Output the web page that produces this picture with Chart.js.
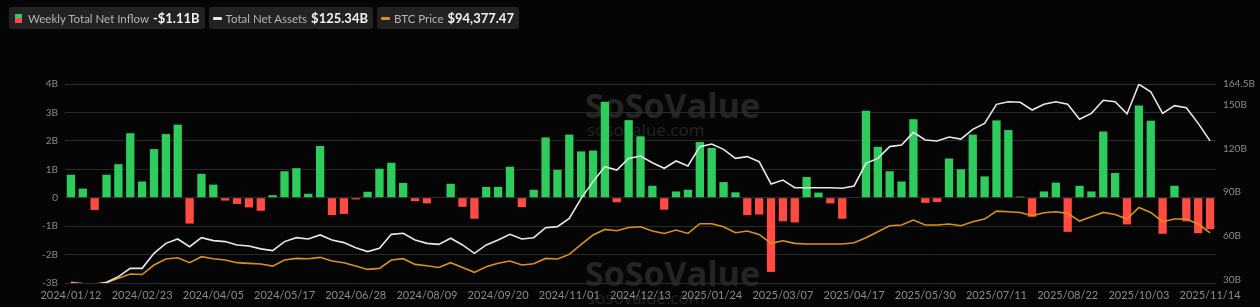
<!DOCTYPE html>
<html>
<head>
<meta charset="utf-8">
<script src="https://cdn.jsdelivr.net/npm/chart.js@4.4.1/dist/chart.umd.min.js"></script>
<style>
  html, body { margin: 0; padding: 0; background: #050505; }
  #wrap { position: relative; width: 1260px; height: 307px; overflow: hidden; }
  #chart { position: absolute; left: 0; top: 0; z-index: 2; }
  .legend { position: absolute; top: 7px; left: 9px; display: flex; gap: 4px; z-index: 3; font-family: Lato, sans-serif; }
  .item { background: #222; border-radius: 3px; height: 22px; display: flex; align-items: center; padding: 0 5px 0 4px; }
  .item .name { color: #b5b5b5; font-size: 11.5px; margin-left: 6px; }
  .item .val { color: #f2f2f2; font-size: 13px; font-weight: bold; margin-left: 4px; }
  .icon-bar { width: 7px; height: 9px; background: linear-gradient(#2ecc5c 50%, #ff4b41 50%); margin-left: 2px; }
  .icon-line { width: 9px; height: 3px; border-radius: 1px; }
  .wm { position: absolute; z-index: 1; color: #242424; font-family: "Open Sans", sans-serif; font-weight: bold; }
</style>
</head>
<body>
<div id="wrap">
  <div class="legend">
    <div class="item"><span class="icon-bar"></span><span class="name">Weekly Total Net Inflow</span><span class="val">-$1.11B</span></div>
    <div class="item"><span class="icon-line" style="background:#e8e8e8"></span><span class="name" style="margin-left:4px">Total Net Assets</span><span class="val">$125.34B</span></div>
    <div class="item"><span class="icon-line" style="background:#d8911f"></span><span class="name" style="margin-left:4px">BTC Price</span><span class="val">$94,377.47</span></div>
  </div>
  <div class="wm" style="left:585px; top:82px; font-size:34px;">SoSoValue</div>
  <div class="wm" style="left:587px; top:118px; font-size:17px; font-weight:normal;">sosovalue.com</div>
  <div class="wm" style="left:585px; top:250px; font-size:34px;">SoSoValue</div>
  <div class="wm" style="left:587px; top:286px; font-size:17px; font-weight:normal;">sosovalue.com</div>
  <canvas id="chart" width="1260" height="307"></canvas>
</div>
<script>
// Weekly dates (Friday, or Thursday before a market holiday)
const weeks = [
  '2024/01/12','2024/01/19','2024/01/26','2024/02/02','2024/02/09','2024/02/16','2024/02/23','2024/03/01',
  '2024/03/08','2024/03/15','2024/03/22','2024/03/28','2024/04/05','2024/04/12','2024/04/19','2024/04/26',
  '2024/05/03','2024/05/10','2024/05/17','2024/05/24','2024/05/31','2024/06/07','2024/06/14','2024/06/21',
  '2024/06/28','2024/07/05','2024/07/12','2024/07/19','2024/07/26','2024/08/02','2024/08/09','2024/08/16',
  '2024/08/23','2024/08/30','2024/09/06','2024/09/13','2024/09/20','2024/09/27','2024/10/04','2024/10/11',
  '2024/10/18','2024/10/25','2024/11/01','2024/11/08','2024/11/15','2024/11/22','2024/11/29','2024/12/06',
  '2024/12/13','2024/12/20','2024/12/27','2025/01/03','2025/01/10','2025/01/17','2025/01/24','2025/01/31',
  '2025/02/07','2025/02/14','2025/02/21','2025/02/28','2025/03/07','2025/03/14','2025/03/21','2025/03/28',
  '2025/04/04','2025/04/11','2025/04/17','2025/04/25','2025/05/02','2025/05/09','2025/05/16','2025/05/23',
  '2025/05/30','2025/06/06','2025/06/13','2025/06/20','2025/06/27','2025/07/03','2025/07/11','2025/07/18',
  '2025/07/25','2025/08/01','2025/08/08','2025/08/15','2025/08/22','2025/08/29','2025/09/05','2025/09/12',
  '2025/09/19','2025/09/26','2025/10/03','2025/10/10','2025/10/17','2025/10/24','2025/10/31','2025/11/07',
  '2025/11/14'
];

// Weekly total net inflow, billions USD
const netInflow = [
  0.81, 0.32, -0.43, 0.81, 1.18, 2.27, 0.57, 1.71, 2.24, 2.57, -0.91, 0.84, 0.46, -0.10, -0.22, -0.34,
  -0.46, 0.09, 0.93, 1.04, 0.14, 1.82, -0.61, -0.57, -0.06, 0.21, 1.02, 1.23, 0.52, -0.12, -0.20, 0.02,
  0.49, -0.32, -0.74, 0.38, 0.38, 1.09, -0.33, 0.28, 2.12, 0.98, 2.22, 1.63, 1.66, 3.38, -0.16, 2.73,
  2.16, 0.42, -0.42, 0.22, 0.28, 1.96, 1.75, 0.55, 0.19, -0.61, -0.59, -2.61, -0.83, -0.87, 0.73, 0.18,
  -0.20, -0.74, 0.02, 3.06, 1.79, 0.93, 0.57, 2.76, -0.18, -0.15, 1.38, 1.00, 2.22, 0.75, 2.72, 2.38,
  0.04, -0.67, 0.22, 0.53, -1.20, 0.42, 0.22, 2.33, 0.87, -0.94, 3.24, 2.71, -1.27, 0.42, -0.83, -1.25,
  -1.11
];

// Total net assets, billions USD
const totalNetAssets = [
  27.5, 26.2, 26.2, 28.0, 31.9, 37.6, 37.6, 47.9, 54.8, 57.8, 52.5, 58.7, 56.7, 56.0, 53.7, 53.0,
  51.0, 49.8, 56.0, 58.7, 57.8, 60.6, 57.1, 55.3, 51.8, 49.1, 51.4, 61.0, 61.7, 57.1, 54.8, 54.1,
  58.3, 53.7, 47.9, 53.7, 57.1, 61.0, 57.8, 58.7, 65.6, 66.3, 72.0, 85.8, 97.3, 107.6, 105.3, 113.3,
  114.9, 110.3, 106.5, 111.5, 108.1, 121.4, 123.2, 119.5, 113.3, 114.5, 111.0, 95.7, 98.4, 93.1, 93.1, 93.1,
  93.1, 92.7, 94.3, 109.9, 113.3, 121.4, 122.5, 131.2, 126.0, 125.3, 128.0, 126.6, 133.3, 137.4, 150.5, 152.3,
  151.9, 146.6, 150.5, 152.3, 150.5, 140.2, 144.3, 153.3, 152.3, 143.9, 164.3, 159.2, 144.3, 149.6, 148.2, 137.4,
  125.34
];

// BTC price, USD
const btcPrice = [
  42500, 41000, 40800, 42000, 46600, 51100, 50600, 60600, 66900, 68300, 63100, 69400, 67300, 65900, 63100, 62400,
  61700, 59500, 65900, 67600, 67300, 68700, 64800, 63100, 59500, 56000, 57100, 65900, 67300, 61300, 59900, 58100,
  63100, 58100, 52900, 58800, 62400, 64800, 60600, 62000, 67600, 66900, 71800, 82400, 92200, 98100, 96700, 100200,
  100900, 96400, 93900, 97400, 93900, 104100, 104100, 100900, 94600, 96400, 92900, 83400, 86200, 83400, 82700, 82700,
  82700, 82700, 84100, 89400, 95700, 102000, 102700, 108000, 102700, 102700, 103800, 102000, 106200, 109000, 117400, 116700,
  116000, 112500, 115700, 116700, 115000, 106900, 111500, 116000, 113900, 109000, 121300, 116000, 106200, 109000, 109000, 103800,
  94377.47
];

const leftTicks = [-3, -2, -1, 0, 1, 2, 3, 4];
const rightTicks = [30, 60, 90, 120, 150, 164.5];

const GREEN = '#2ecc5c';
const RED = '#ff4b41';
const AXIS_TXT = '#8a8a8a';

const ctx = document.getElementById('chart');
new Chart(ctx, {
  type: 'bar',
  data: {
    labels: weeks,
    datasets: [
      {
        type: 'line',
        label: 'Total Net Assets',
        data: totalNetAssets,
        yAxisID: 'yAssets',
        borderColor: '#e8e8e8',
        borderWidth: 1.6,
        pointRadius: 0,
        tension: 0,
        order: 1
      },
      {
        type: 'line',
        label: 'BTC Price',
        data: btcPrice,
        yAxisID: 'yBtc',
        borderColor: '#d8911f',
        borderWidth: 1.6,
        pointRadius: 0,
        tension: 0,
        order: 2
      },
      {
        type: 'bar',
        label: 'Weekly Total Net Inflow',
        data: netInflow,
        yAxisID: 'y',
        backgroundColor: netInflow.map(v => v >= 0 ? GREEN : RED),
        barPercentage: 0.7,
        categoryPercentage: 1,
        order: 3
      }
    ]
  },
  options: {
    responsive: false,
    animation: false,
    devicePixelRatio: 1,
    layout: { padding: { top: 84, left: 0, right: 0, bottom: 0 } },
    plugins: {
      legend: { display: false },
      tooltip: { enabled: false }
    },
    scales: {
      x: {
        offset: true,
        grid: { display: false, drawTicks: false },
        border: { display: false },
        ticks: {
          color: AXIS_TXT,
          font: { family: 'Lato', size: 11 },
          autoSkip: false,
          maxRotation: 0,
          padding: 6,
          callback: (v, i) => i % 6 === 0 ? weeks[i] : ''
        },
        afterFit: s => { s.height = 24; }
      },
      y: {
        position: 'left',
        min: -3,
        max: 4,
        afterBuildTicks: s => { s.ticks = leftTicks.map(v => ({ value: v })); },
        grid: { color: '#2a2a2a', drawTicks: false },
        border: { display: false },
        ticks: {
          color: AXIS_TXT,
          font: { family: 'Lato', size: 10 },
          padding: 7,
          callback: v => v === 0 ? '0' : v + 'B'
        },
        afterFit: s => { s.width = 65; }
      },
      yAssets: {
        position: 'right',
        min: 27.5,
        max: 164.5,
        afterBuildTicks: s => { s.ticks = rightTicks.map(v => ({ value: v })); },
        grid: { display: false, drawTicks: false },
        border: { display: false },
        ticks: {
          color: AXIS_TXT,
          font: { family: 'Lato', size: 10 },
          padding: 7,
          callback: v => v + 'B'
        },
        afterFit: s => { s.width = 44; }
      },
      yBtc: {
        display: false,
        min: 41700,
        max: 251200
      }
    }
  }
});
</script>
</body>
</html>
